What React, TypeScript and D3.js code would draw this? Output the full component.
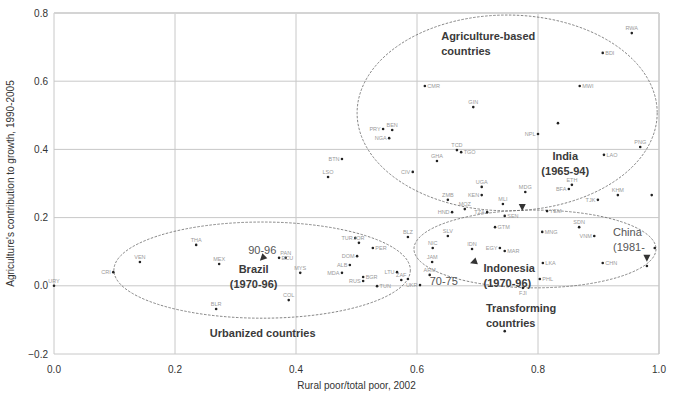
import React, { useEffect, useRef } from "react";
import * as d3 from "d3";

// country codes, rural share of poor (x) and agriculture's share of growth (y)
const countries = [
    "RWA", "BDI", "CMR", "GIN", "MWI", "", "NPL", "PRY", "BEN", "NGA",
    "TCD", "TGO", "GHA", "CIV", "UGA", "ZMB", "KEN", "MOZ", "HND", "MLI",
    "MDG", "TZA", "SEN", "GTM", "BLZ", "SLV", "PNG", "LAO", "ETH", "BFA",
    "KHM", "", "TJK", "YEM", "SDN", "MNG", "VNM", "CHN", "LKA", "PHL",
    "", "", "IDN", "EGY", "MAR", "NIC", "JAM", "ARM", "FJI", "LTU",
    "ZAF", "", "UKR", "TUR", "JOR", "PER", "DOM", "ALB", "MDA", "RUS",
    "BGR", "TUN", "MYS", "PAN", "ECU", "COL", "THA", "VEN", "MEX", "CRI",
    "URY", "BLR", "BTN", "LSO", ""
];
const ruralShare = [
    0.955, 0.907, 0.613, 0.693, 0.869, 0.833, 0.800, 0.544, 0.559, 0.554,
    0.666, 0.673, 0.633, 0.593, 0.707, 0.651, 0.707, 0.679, 0.658, 0.742,
    0.779, 0.716, 0.745, 0.729, 0.585, 0.651, 0.969, 0.909, 0.856, 0.851,
    0.932, 0.988, 0.899, 0.815, 0.868, 0.807, 0.893, 0.907, 0.808, 0.803,
    0.993, 0.980, 0.691, 0.737, 0.745, 0.626, 0.625, 0.621, 0.775, 0.567,
    0.574, 0.585, 0.605, 0.498, 0.504, 0.527, 0.501, 0.489, 0.476, 0.511,
    0.511, 0.534, 0.407, 0.383, 0.372, 0.388, 0.235, 0.142, 0.273, 0.098,
    0.0, 0.268, 0.476, 0.453, 0.745
];
const agShare = [
    0.741, 0.683, 0.586, 0.524, 0.586, 0.477, 0.445, 0.460, 0.457, 0.433,
    0.398, 0.392, 0.366, 0.334, 0.290, 0.252, 0.266, 0.225, 0.216, 0.240,
    0.275, 0.216, 0.205, 0.172, 0.143, 0.146, 0.407, 0.384, 0.296, 0.284,
    0.266, 0.266, 0.252, 0.219, 0.172, 0.158, 0.146, 0.067, 0.067, 0.020,
    0.111, 0.058, 0.108, 0.111, 0.102, 0.111, 0.070, 0.032, -0.006, 0.040,
    0.017, 0.020, 0.002, 0.140, 0.126, 0.111, 0.087, 0.061, 0.038, 0.014,
    0.026, -0.001, 0.038, 0.082, 0.082, -0.042, 0.120, 0.070, 0.064, 0.040,
    0.0, -0.068, 0.372, 0.319, -0.133
];
const labelSide = [
    "t", "r", "r", "t", "r", "", "l", "l", "t", "l",
    "t", "r", "t", "l", "t", "t", "l", "t", "l", "t",
    "t", "l", "r", "r", "t", "t", "t", "r", "t", "l",
    "t", "", "l", "r", "t", "r", "l", "r", "r", "r",
    "", "", "t", "l", "r", "t", "t", "t", "b", "l",
    "t", "", "l", "l", "t", "r", "l", "l", "l", "l",
    "r", "r", "t", "t", "r", "t", "t", "t", "t", "l",
    "t", "t", "l", "t", ""
];

// development paths (arrow heads)
const pathNames = ["Brazil", "India", "Indonesia", "China"];
const pathX = [0.345, 0.774, 0.694, 0.980];
const pathY = [0.082, 0.231, 0.070, 0.082];
const pathAngle = [225, 180, 250, 180];

// country groups (ellipses)
const groupNames = ["Agriculture-based", "Urbanized", "Transforming"];
const groupCx = [0.749, 0.344, 0.795];
const groupCy = [0.507, 0.046, 0.108];
const groupRx = [0.248, 0.245, 0.2];
const groupRy = [0.287, 0.141, 0.114];

const xTicks = [0, 0.2, 0.4, 0.6, 0.8, 1.0];
const yTicks = [-0.2, 0, 0.2, 0.4, 0.6, 0.8];

const App: React.FC = () => {
    const svgRef = useRef<SVGSVGElement | null>(null);

    useEffect(() => {
        if (!svgRef.current) return;
        const svg = d3.select(svgRef.current);
        svg.selectAll("*").remove();

        const width = 680;
        const height = 397;
        const font = "'Liberation Sans', Arial, sans-serif";

        const x = d3.scaleLinear().domain([0, 1]).range([54, 659]);
        const y = d3.scaleLinear().domain([-0.2, 0.8]).range([354, 13]);

        svg.attr("width", width).attr("height", height).style("font-family", font);
        svg.append("rect").attr("width", width).attr("height", height).attr("fill", "#fff");

        // grid
        svg.append("g")
            .selectAll("line")
            .data(xTicks)
            .join("line")
            .attr("x1", (d) => x(d))
            .attr("x2", (d) => x(d))
            .attr("y1", y(0.8))
            .attr("y2", y(-0.2))
            .attr("stroke", (d) => (d === 1 ? "#d4d4d4" : "#c8c8c8"))
            .attr("stroke-width", (d) => (d === 1 ? 2 : 1));
        svg.append("g")
            .selectAll("line")
            .data(yTicks)
            .join("line")
            .attr("x1", x(0))
            .attr("x2", x(1))
            .attr("y1", (d) => y(d))
            .attr("y2", (d) => y(d))
            .attr("stroke", (d) => (d === 0.8 ? "#d4d4d4" : "#c8c8c8"))
            .attr("stroke-width", (d) => (d === 0.8 ? 2 : 1));

        // tick labels
        svg.append("g")
            .selectAll("text")
            .data(xTicks)
            .join("text")
            .attr("x", (d) => x(d))
            .attr("y", 373)
            .attr("text-anchor", "middle")
            .attr("font-size", "10px")
            .attr("fill", "#333")
            .text((d) => d3.format(".1f")(d));
        svg.append("g")
            .selectAll("text")
            .data(yTicks)
            .join("text")
            .attr("x", 48)
            .attr("y", (d) => y(d) + 3.5)
            .attr("text-anchor", "end")
            .attr("font-size", "10px")
            .attr("fill", "#333")
            .text((d) => d3.format(".1f")(d));

        // axis titles
        svg.append("text")
            .attr("x", x(0.5))
            .attr("y", 389)
            .attr("text-anchor", "middle")
            .attr("font-size", "10px")
            .attr("fill", "#333")
            .text("Rural poor/total poor, 2002");
        svg.append("text")
            .attr("transform", `translate(14,${y(0.3)}) rotate(-90)`)
            .attr("text-anchor", "middle")
            .attr("font-size", "10px")
            .attr("fill", "#333")
            .text("Agriculture's contribution to growth, 1990-2005");

        // ellipses
        svg.append("g")
            .selectAll("ellipse")
            .data(groupNames)
            .join("ellipse")
            .attr("cx", (_, i) => x(groupCx[i]))
            .attr("cy", (_, i) => y(groupCy[i]))
            .attr("rx", (_, i) => x(groupRx[i]) - x(0))
            .attr("ry", (_, i) => y(0) - y(groupRy[i]))
            .attr("fill", "none")
            .attr("stroke", "#666")
            .attr("stroke-width", 0.8)
            .attr("stroke-dasharray", "2.5,1.5");

        // country points
        const pts = svg.append("g");
        countries.forEach((c, i) => {
            const px = x(ruralShare[i]);
            const py = y(agShare[i]);
            pts.append("circle").attr("cx", px).attr("cy", py).attr("r", 1.3).attr("fill", "#222");
            if (!c) return;
            const side = labelSide[i];
            pts.append("text")
                .attr("x", side === "r" ? px + 2.5 : side === "l" ? px - 2.5 : px)
                .attr("y", side === "t" ? py - 3 : side === "b" ? py + 7 : py + 2)
                .attr("text-anchor", side === "r" ? "start" : side === "l" ? "end" : "middle")
                .attr("font-size", "5.5px")
                .attr("fill", "#9a9a9a")
                .text(c);
        });

        // path arrow heads
        svg.append("g")
            .selectAll("path")
            .data(pathNames)
            .join("path")
            .attr("d", "M0,4 L-3.5,-3 L3.5,-3 Z")
            .attr("transform", (_, i) => `translate(${x(pathX[i])},${y(pathY[i])}) rotate(${pathAngle[i] - 180})`)
            .attr("fill", "#333");

        // annotations
        const note = (tx: number, ty: number, lines: string[], bold: boolean, anchor = "start", color = "#3a3a3a") => {
            const t = svg.append("text")
                .attr("x", tx)
                .attr("y", ty)
                .attr("text-anchor", anchor)
                .attr("font-size", "11px")
                .attr("font-weight", bold ? "bold" : "normal")
                .attr("fill", color);
            lines.forEach((l, k) => {
                t.append("tspan").attr("x", tx).attr("dy", k === 0 ? 0 : 15).text(l);
            });
        };
        note(x(0.64), 40, ["Agriculture-based", "countries"], true);
        note(x(0.845), 160, ["India", "(1965-94)"], true, "middle");
        note(x(0.33), 273, ["Brazil", "(1970-96)"], true, "middle");
        note(x(0.321), 254, ["90-96"], false, "start", "#555");
        note(x(0.345), 337, ["Urbanized countries"], true, "middle");
        note(x(0.71), 272, ["Indonesia", "(1970-96)"], true);
        note(x(0.621), 285, ["70-75"], false, "start", "#555");
        note(x(0.714), 312, ["Transforming", "countries"], true);
        note(x(0.924), 236, ["China", "(1981-"], false, "start", "#555");
    }, []);

    return (
        <div style={{ position: "absolute", left: 0, top: 0 }}>
            <svg ref={svgRef}></svg>
        </div>
    );
};

export default App;
